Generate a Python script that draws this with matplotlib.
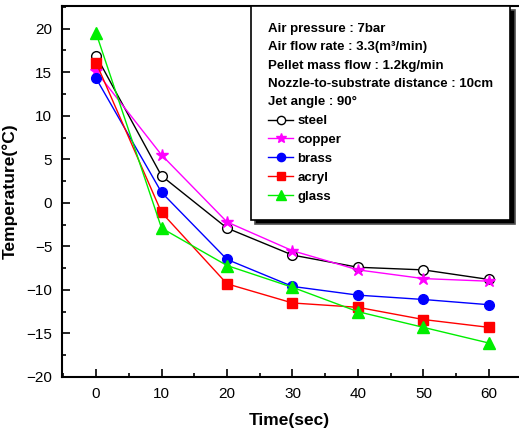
import matplotlib
matplotlib.use("Agg")
import matplotlib.pyplot as plt
from matplotlib.ticker import MultipleLocator

plt.rcParams['font.family'] = ['Liberation Sans', 'DejaVu Sans']

time = [0, 10, 20, 30, 40, 50, 60]
steel = [16.9, 3.1, -2.9, -6.0, -7.4, -7.7, -8.8]
copper = [15.1, 5.5, -2.2, -5.5, -7.7, -8.7, -9.0]
brass = [14.3, 1.2, -6.5, -9.6, -10.6, -11.1, -11.7]
acryl = [16.1, -1.1, -9.3, -11.5, -12.0, -13.4, -14.3]
glass = [19.5, -2.9, -7.2, -9.7, -12.5, -14.3, -16.1]

conditions = ["Air pressure : 7bar",
              "Air flow rate : 3.3(m³/min)",
              "Pellet mass flow : 1.2kg/min",
              "Nozzle-to-substrate distance : 10cm",
              "Jet angle : 90°"]

W, H = 519, 433
fig = plt.figure(figsize=(W / 100, H / 100), dpi=100)
left, right, bottom, top = 62, 519, 377, 6
ax = fig.add_axes([left / W, 1 - bottom / H, (right - left) / W, (bottom - top) / H])

series = [
    ("steel", steel, dict(color='black', marker='o', mfc='white', mec='black')),
    ("copper", copper, dict(color='#ff00ff', marker='*', mfc='#ff00ff', mec='#ff00ff', ms=9)),
    ("brass", brass, dict(color='#0000ff', marker='o', mfc='#0000ff', mec='#0000ff')),
    ("acryl", acryl, dict(color='#ff0000', marker='s', mfc='#ff0000', mec='#ff0000')),
    ("glass", glass, dict(color='#00ee00', marker='^', mfc='#00ee00', mec='#00ee00', ms=8)),
]
handles = []
for name, vals, st in series:
    kw = dict(lw=1.0, ms=7)
    kw.update(st)
    h, = ax.plot(time, vals, label=name, **kw)
    handles.append(h)

ax.set_xlim(-5.2, 64.6)
ax.set_ylim(-20, 22.6)
ax.xaxis.set_major_locator(MultipleLocator(10))
ax.xaxis.set_minor_locator(MultipleLocator(5))
ax.yaxis.set_major_locator(MultipleLocator(5))
ax.yaxis.set_minor_locator(MultipleLocator(2.5))
ax.tick_params(which='both', direction='in', labelsize=11, width=1.2)
ax.tick_params(which='major', length=6, pad=7)
ax.tick_params(which='minor', length=3)
ax.tick_params(axis='x', which='both', top=False)
ax.tick_params(axis='y', which='both', right=False)
ax.spines['right'].set_visible(False)
for s in ['left', 'bottom', 'top']:
    ax.spines[s].set_linewidth(1.5)

ax.set_ylabel("Temperature(°C)", fontsize=12.5, fontweight='bold', labelpad=6)
fig.text(289 / W, 1 - 420 / H, "Time(sec)", fontsize=12.5, fontweight='bold',
         ha='center', va='center')

leg = ax.legend(handles=handles, title="\n".join(conditions),
                loc='upper left', bbox_to_anchor=((251 - left) / (right - left), 1.0),
                alignment='left', frameon=True, fancybox=False,
                shadow={'facecolor': 'black', 'alpha': 1.0, 'ox': 3, 'oy': -3},
                prop={'weight': 'bold', 'size': 9.5},
                title_fontproperties={'weight': 'bold', 'size': 9.5},
                handlelength=1.9, handletextpad=0.3, labelspacing=0.5,
                borderpad=1.3, borderaxespad=0.0, edgecolor='black',
                markerscale=0.85)
leg.get_frame().set_linewidth(1.2)
leg.get_title().set_linespacing(1.7)
fig.savefig("out.png", dpi=100)
